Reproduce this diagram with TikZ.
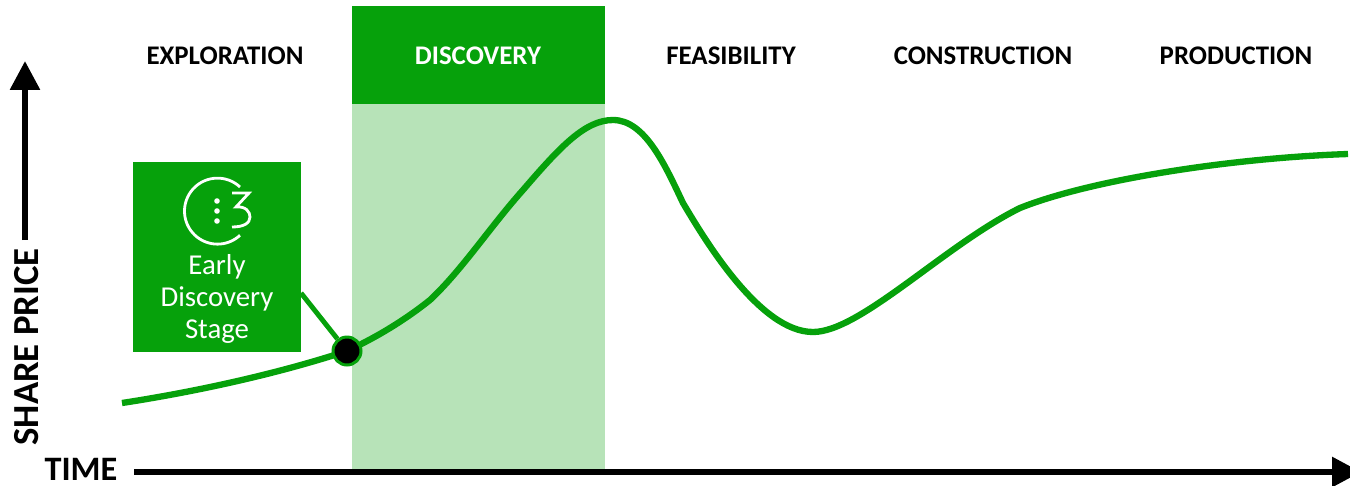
\documentclass[tikz,border=0pt]{standalone}
\usepackage{fontspec}
\setmainfont{Carlito}
\usetikzlibrary{arrows.meta}
\definecolor{darkgreen}{HTML}{06A10B}
\definecolor{lightgreen}{HTML}{B7E3B8}
\tikzset{
  StageStyle/.style = { font = \fontsize{15.3}{17}\selectfont\bfseries, inner sep = 0pt },
  AxisStyle/.style = { line width = 3.4pt, -{Triangle[length=16.5pt,width=16.5pt]} },
  AxisLabel/.style = { font = \fontsize{19.5}{22}\selectfont\bfseries, inner sep = 0pt },
  CurveStyle/.style = { darkgreen, line width = 3.6pt },
  IconStyle/.style = { white, line width = 1.6pt } }
\begin{document}
\begin{tikzpicture}[x=0.02cm,y=0.02cm]
  \useasboundingbox (0,0) rectangle (1350,485);

  % discovery band
  \fill[lightgreen] (352,13) rectangle (605,381);
  \fill[darkgreen] (352,381) rectangle (605,479);

  \node[StageStyle] (exploration) at (225,429.5) {EXPLORATION};
  \node[StageStyle,white] (discovery) at (478,429.5) {DISCOVERY};
  \node[StageStyle] (feasibility) at (731,429.5) {FEASIBILITY};
  \node[StageStyle] (construction) at (983,429.5) {CONSTRUCTION};
  \node[StageStyle] (production) at (1236,429.5) {PRODUCTION};

  % axes
  \coordinate (timeA) at (134,13);
  \coordinate (timeB) at (1361,13);
  \coordinate (priceA) at (25,245);
  \coordinate (priceB) at (25,424);
  \draw[AxisStyle] (timeA) -- (timeB);
  \draw[AxisStyle] (priceA) -- (priceB);
  \node[AxisLabel] (time) at (81,16) {TIME};
  \node[AxisLabel,rotate=90,font=\fontsize{20.9}{22}\selectfont\bfseries] (price) at (27,138) {SHARE PRICE};

  % share price
  \draw[CurveStyle] (122,82) .. controls (200,94) and (280,112) .. (347,134)
    .. controls (377,148) and (405,165) .. (430,185)
    .. controls (462,215) and (490,258) .. (523,295)
    .. controls (560,338) and (585,365) .. (613,365)
    .. controls (645,365) and (665,320) .. (683,282)
    .. controls (705,245) and (760,153) .. (813,153)
    .. controls (860,153) and (945,240) .. (1020,277)
    .. controls (1090,305) and (1230,327) .. (1348,331);

  \node[fill=darkgreen,minimum width=168*0.02cm,minimum height=190*0.02cm,inner sep=0pt] (box) at (217,228) {};
  \node[white,align=center,font=\fontsize{16.4}{18.2}\selectfont] (early) at (217,186) {Early\\Discovery\\Stage};

  % logo
  \draw[IconStyle] (240,298) arc (47:313:33);
  \fill[white] (217,284) circle (2.8);
  \fill[white] (217,274) circle (2.8);
  \fill[white] (217,264) circle (2.8);
  \draw[IconStyle] (232,292) -- (249,292) -- (236,278)
    .. controls (246,279) and (250,273) .. (250,268)
    .. controls (250,262) and (244,258) .. (232,258);

  \coordinate (boxedge) at (301,192);
  \node[circle,fill=black,draw=darkgreen,line width=1.7pt,minimum size=28*0.02cm,inner sep=0pt] (dot) at (347,134) {};
  \draw[darkgreen,line width=2.8pt] (boxedge) -- (dot);
\end{tikzpicture}
\end{document}
